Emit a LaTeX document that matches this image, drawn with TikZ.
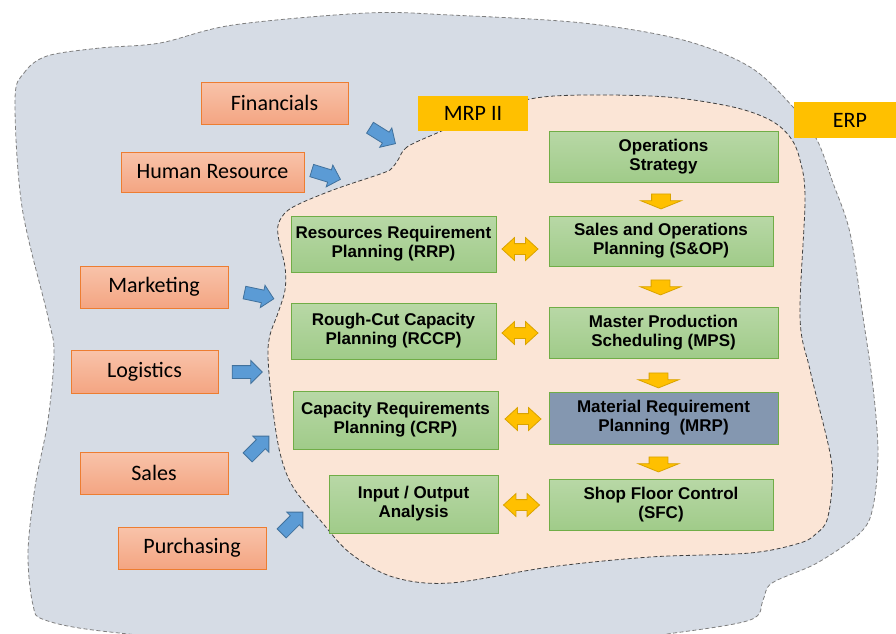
\documentclass[tikz,border=0pt]{standalone}
\usepackage{fontspec}
\setmainfont{Carlito}
\newfontfamily\arialfont{Liberation Sans}
\usetikzlibrary{shapes.arrows}
\definecolor{erpfill}{HTML}{D6DCE5}
\definecolor{erpline}{HTML}{7F7F7F}
\definecolor{mrpfill}{HTML}{FBE5D6}
\definecolor{mrpline}{HTML}{404040}
\definecolor{orangetop}{HTML}{F8C3AA}
\definecolor{orangebot}{HTML}{F4A582}
\definecolor{orangeline}{HTML}{ED7D31}
\definecolor{greentop}{HTML}{B8D8A6}
\definecolor{greenbot}{HTML}{A0CB89}
\definecolor{greenline}{HTML}{70AD47}
\definecolor{mrpblue}{HTML}{8497B0}
\definecolor{gold}{HTML}{FFC000}
\definecolor{goldline}{HTML}{D9A300}
\definecolor{arrowblue}{HTML}{5B9BD5}
\definecolor{arrowline}{HTML}{41719C}
\begin{document}
\begin{tikzpicture}[x=1pt, y=-1pt,
        dept/.style = {draw=orangeline, line width=1pt, top color=orangetop, bottom color=orangebot,
                       minimum height=42pt, inner sep=0pt, font=\fontsize{22}{24}\selectfont},
        plan/.style = {draw=greenline, line width=1pt, top color=greentop, bottom color=greenbot,
                       align=center, inner sep=0pt, font=\arialfont\bfseries\fontsize{17}{19}\selectfont},
        tag/.style = {fill=gold, inner sep=0pt, minimum height=35pt, font=\fontsize{22}{24}\selectfont},
        inflow/.style = {single arrow, draw=arrowline, fill=arrowblue, line width=0.8pt,
                         inner xsep=0pt, inner ysep=6pt, minimum height=30pt, single arrow head extend=5pt},
        flowdown/.style = {single arrow, rotate=-90, draw=goldline, fill=gold, line width=0.8pt,
                           inner xsep=0pt, inner ysep=9pt, minimum height=15pt, single arrow head extend=11pt,
                           single arrow tip angle=136},
        linkboth/.style = {double arrow, draw=goldline, fill=gold, line width=0.8pt,
                           inner xsep=0pt, inner ysep=5pt, minimum height=36pt, double arrow head extend=6pt,
                           double arrow tip angle=85}
    ]
        \useasboundingbox (0,0) rectangle (896,633);
        \draw[erpline, fill=erpfill, line width=0.8pt, dash pattern=on 4pt off 2.5pt]
            plot[smooth cycle, tension=0.55] coordinates {(15,100) (24,73) (47,56) (100,48) (160,43) (233,25)
            (367,13) (450,15) (583,23) (683,40) (750,67) (793,107) (817,140) (833,183) (850,233) (863,317)
            (873,387) (878,453) (873,507) (860,533) (817,563) (772,583) (763,600) (750,620) (667,634)
            (550,648) (300,648) (110,632) (45,620) (33,605) (28,553) (35,487) (48,420) (54,353) (48,317)
            (22,207)};
        \draw[mrpline, fill=mrpfill, line width=0.8pt, dash pattern=on 4pt off 2.5pt]
            plot[smooth cycle, tension=0.55] coordinates {(437,133) (407,147) (398,160) (392,168) (383,173)
            (333,190) (293,207) (280,220) (278,235) (285,267) (285,290) (278,313) (270,335) (268,357)
            (272,403) (280,453) (293,487) (320,520) (350,553) (393,577) (450,583) (550,567) (650,557)
            (750,553) (800,543) (817,533) (827,520) (832,487) (830,453) (810,370) (800,317) (805,200)
            (800,160) (790,137) (770,120) (733,107) (667,97) (583,95) (530,99) (480,115)};
        \node[tag, minimum width=110pt] (mrpii) at (473,113.5) {MRP II};
        \node[tag, minimum width=112pt, minimum height=36pt] (erp) at (850,120) {ERP};
        \node[dept, minimum width=147pt] (fin) at (274.5,103) {Financials};
        \node[dept, minimum width=183pt, minimum height=40pt] (hr) at (212.5,172) {Human Resource};
        \node[dept, minimum width=148pt] (mkt) at (154,287) {Marketing};
        \node[dept, minimum width=147pt, minimum height=43pt] (log) at (144.5,371.5) {Logistics};
        \node[dept, minimum width=148pt] (sal) at (154,473) {Sales};
        \node[dept, minimum width=148pt] (pur) at (192,548) {Purchasing};
        \node[plan, minimum width=229pt, minimum height=51pt] (ops) at (663.5,156.5) {Operations\\Strategy};
        \node[plan, minimum width=224pt, minimum height=50pt] (sop) at (661,241) {Sales and Operations\\Planning (S\&OP)};
        \node[plan, minimum width=229pt, minimum height=51pt] (mps) at (663.5,332.5) {Master Production\\Scheduling (MPS)};
        \node[plan, minimum width=229pt, minimum height=52pt, fill=mrpblue, top color=mrpblue, bottom color=mrpblue] (mrp) at (663.5,418) {Material Requirement\\Planning~~(MRP)};
        \node[plan, minimum width=224pt, minimum height=51pt] (sfc) at (661,504.5) {Shop Floor Control\\(SFC)};
        \node[plan, minimum width=205pt, minimum height=56pt] (rrp) at (393.5,244) {Resources Requirement\\Planning (RRP)};
        \node[plan, minimum width=205pt, minimum height=56pt] (rccp) at (393.5,331) {Rough-Cut Capacity\\Planning (RCCP)};
        \node[plan, minimum width=205pt, minimum height=58pt] (crp) at (395.5,420) {Capacity Requirements\\Planning (CRP)};
        \node[plan, minimum width=169pt, minimum height=58pt] (io) at (413.5,504) {Input / Output\\Analysis};
        \node[flowdown] (d1) at (661,199.5) {};
        \node[flowdown] (d2) at (660.5,285.5) {};
        \node[flowdown] (d3) at (658.5,378.5) {};
        \node[flowdown] (d4) at (658.5,462.5) {};
        \node[linkboth] (l1) at (520,249) {};
        \node[linkboth] (l2) at (520,333) {};
        \node[linkboth] (l3) at (523,419) {};
        \node[linkboth] (l4) at (521.5,505) {};
        \node[inflow, rotate=-32] (a1) at (380,134) {};
        \node[inflow, rotate=-17] (a2) at (323,174) {};
        \node[inflow, rotate=-12] (a3) at (256,295) {};
        \node[inflow] (a4) at (244,372) {};
        \node[inflow, rotate=45] (a5) at (256,449) {};
        \node[inflow, rotate=45] (a6) at (290,525) {};
\end{tikzpicture}
\end{document}
